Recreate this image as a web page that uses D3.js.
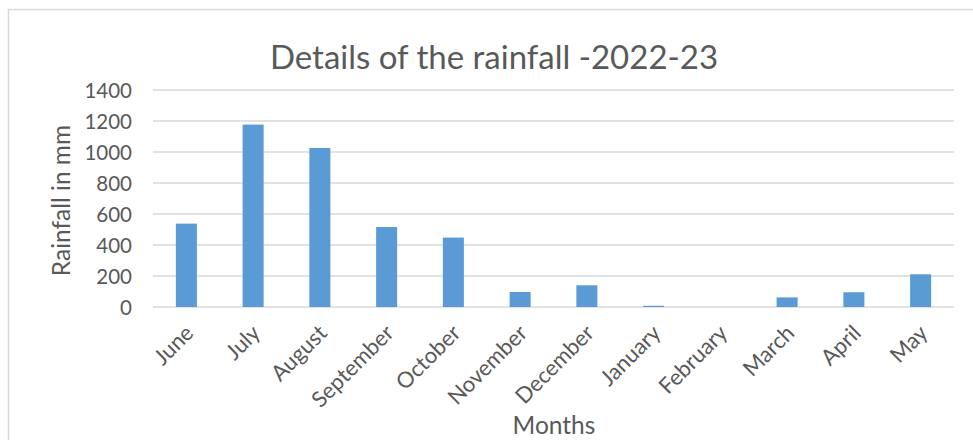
<!DOCTYPE html>
<html>
<head>
<meta charset="utf-8">
<script src="https://cdn.jsdelivr.net/npm/d3@7"></script>
<style>
  html, body { margin: 0; padding: 0; background: #fff; }
  svg { display: block; font-family: Lato, "Open Sans", sans-serif; }
</style>
</head>
<body>
<svg id="chart" width="973" height="440"></svg>
<script>
// Monthly rainfall, June 2022 to May 2023 (mm)
const months = ["June", "July", "August", "September", "October", "November",
                "December", "January", "February", "March", "April", "May"];
const rainfall = [538, 1177, 1026, 516, 448, 97, 140, 8, 0, 62, 95, 211];
const yTicks = [0, 200, 400, 600, 800, 1000, 1200, 1400];

const chartTitle = "Details of the rainfall -2022-23";
const yTitle = "Rainfall in mm";
const xTitle = "Months";

const svg = d3.select("#chart");
const W = 973, H = 440;
const plot = { left: 153, right: 954, top: 90, bottom: 307 };

// chart area frame
svg.append("rect")
  .attr("x", 8.5).attr("y", 9.5)
  .attr("width", W + 10).attr("height", H + 10)
  .attr("fill", "#fff").attr("stroke", "#d9d9d9").attr("stroke-width", 1.5);

const x = d3.scaleBand().domain(months)
  .range([plot.left, plot.right]).paddingInner(0.685).paddingOuter(0.3425);
const y = d3.scaleLinear().domain([0, 1400]).range([plot.bottom, plot.top]);

// horizontal gridlines
svg.append("g")
  .selectAll("line").data(yTicks).join("line")
  .attr("x1", plot.left).attr("x2", plot.right)
  .attr("y1", d => y(d)).attr("y2", d => y(d))
  .attr("stroke", "#d9d9d9").attr("stroke-width", 1.5);

// y axis labels
const yAxis = d3.axisLeft(y).tickValues(yTicks).tickFormat(d3.format("d"))
  .tickSize(0).tickPadding(0);
const gy = svg.append("g").attr("transform", `translate(${plot.left - 21},0)`).call(yAxis);
gy.select(".domain").remove();
gy.selectAll("text")
  .attr("fill", "#595959").attr("font-size", 20.5)
  .attr("font-family", "Lato, 'Open Sans', sans-serif")
  .attr("dy", "0.36em");

// bars
svg.append("g")
  .selectAll("rect").data(months).join("rect")
  .attr("x", d => x(d))
  .attr("width", x.bandwidth())
  .attr("y", (d, i) => y(rainfall[i]))
  .attr("height", (d, i) => y(0) - y(rainfall[i]))
  .attr("fill", "#5b9bd5");

// x axis labels, rotated
const xAxis = d3.axisBottom(x).tickSize(0).tickPadding(0);
const gx = svg.append("g").attr("transform", `translate(0,${plot.bottom})`).call(xAxis);
gx.select(".domain").remove();
gx.selectAll(".tick text")
  .attr("fill", "#595959").attr("font-size", 22)
  .attr("font-family", "Lato, 'Open Sans', sans-serif")
  .attr("text-anchor", "end")
  .attr("transform", "translate(3,22) rotate(-45)")
  .attr("dy", "0.35em");

// titles
svg.append("text")
  .attr("x", 494).attr("y", 69)
  .attr("text-anchor", "middle")
  .attr("font-size", 33).attr("fill", "#595959")
  .text(chartTitle);

svg.append("text")
  .attr("transform", `translate(70,${(plot.top + plot.bottom) / 2 + 2}) rotate(-90)`)
  .attr("text-anchor", "middle")
  .attr("font-size", 24.5).attr("fill", "#595959")
  .text(yTitle);

svg.append("text")
  .attr("x", 554).attr("y", 434)
  .attr("text-anchor", "middle")
  .attr("font-size", 24.5).attr("fill", "#595959")
  .text(xTitle);
</script>
</body>
</html>
